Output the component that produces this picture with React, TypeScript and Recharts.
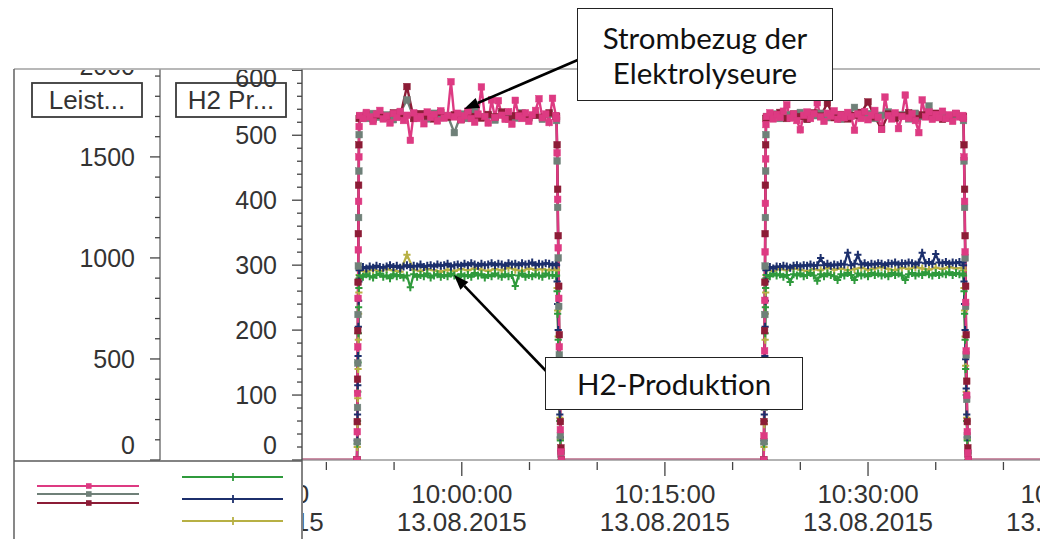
import React from 'react';
import { LineChart, Line, XAxis, YAxis, Legend } from 'recharts';

// ---------- layout constants ----------
const W = 1049;
const H = 539;
const PLOT_LEFT = 302;
const PLOT_RIGHT = 1040;
const PLOT_TOP = 69;
const PLOT_BOTTOM = 460;
const FONT = '"Liberation Sans", Arial, sans-serif';

// ---------- axes ----------
// time in minutes relative to 10:00:00 on 13.08.2015
const X_DOMAIN = [-11.8, 42.7];
const X_TICKS = [-15, -10, -5, 0, 5, 10, 15, 20, 25, 30, 35, 40, 45];
const X_LABEL_TIMES = [-15, 0, 15, 30, 45];
const X_LABEL_CLOCK = ['09:45:00', '10:00:00', '10:15:00', '10:30:00', '10:45:00'];
const X_LABEL_DATE = ['13.08.2015', '13.08.2015', '13.08.2015', '13.08.2015', '13.08.2015'];

const P_DOMAIN = [0, 1935];
const P_TICKS = [0, 100, 200, 300, 400, 500, 600, 700, 800, 900, 1000, 1100, 1200, 1300, 1400, 1500, 1600, 1700, 1800, 1900, 2000];
const H2_DOMAIN = [0, 602];
const H2_TICKS = [0, 20, 40, 60, 80, 100, 120, 140, 160, 180, 200, 220, 240, 260, 280, 300, 320, 340, 360, 380, 400, 420, 440, 460, 480, 500, 520, 540, 560, 580, 600];

// ---------- sampling ----------
const T_LEFT_ZERO = -12.5;
const T_RISE1 = -7.74;
const T_ON1 = -7.55;
const T_FALL1 = 7.0;
const T_RISE2 = 22.3;
const T_ON2 = 22.5;
const T_FALL2 = 37.05;
const T_RIGHT_ZERO = 43.5;
const STEP_UP = 0.02;
const STEP_DOWN = 0.04;
const STEP_FINE = 0.25;
const STEP_COARSE = 0.5;

// ---------- series values: Leistung (kW) ----------
const PINK_RISE = [0, 140, 330, 560, 800, 1040, 1280, 1500, 1650];
const PINK_ON1 = [
  1705, 1690, 1720, 1698, 1675, 1712, 1730, 1688, 1702, 1668,
  1715, 1695, 1725, 1680, 1706, 1582, 1718, 1690, 1700, 1664,
  1722, 1696, 1710, 1678, 1728, 1692, 1705, 1872, 1698, 1716,
  1684, 1703, 1726, 1690, 1672, 1712, 1846, 1700, 1668, 1782,
  1695, 1778, 1706, 1686, 1724, 1662, 1780, 1702, 1690, 1718,
  1676, 1708, 1730, 1788, 1694, 1712, 1670, 1790, 1704,
];
const PINK_FALL = [1690, 1520, 1290, 1050, 800, 560, 330, 150, 40, 0];
const PINK_RISE2 = [0, 120, 310, 540, 790, 1030, 1270, 1490, 1660];
const PINK_ON2 = [
  1700, 1718, 1688, 1710, 1695, 1726, 1758, 1692, 1712, 1680,
  1634, 1706, 1722, 1690, 1714, 1768, 1698, 1676, 1716, 1702,
  1728, 1686, 1708, 1694, 1720, 1700, 1632, 1712, 1690, 1724,
  1684, 1706, 1730, 1696, 1636, 1796, 1704, 1688, 1718, 1640,
  1700, 1806, 1692, 1714, 1680, 1620, 1782, 1698, 1722, 1686,
  1710, 1694, 1726, 1690, 1708, 1676, 1716, 1698, 1705,
];
const PINK_FALL2 = [1690, 1500, 1280, 1030, 780, 540, 320, 140, 35, 0];

const GRAY_RISE = [0, 90, 260, 480, 720, 960, 1200, 1430, 1610];
const GRAY_ON1 = [
  1702, 1690, 1715, 1696, 1708, 1684, 1720, 1782, 1698, 1710,
  1688, 1716, 1694, 1705, 1620, 1712, 1690, 1724, 1698, 1706,
  1682, 1714, 1700, 1692, 1718, 1696, 1708, 1686, 1712, 1700,
];
const GRAY_FALL = [1680, 1480, 1250, 1000, 760, 520, 300, 120, 30, 0];
const GRAY_ON2 = [
  1700, 1712, 1690, 1708, 1696, 1720, 1688, 1704, 1716, 1694,
  1710, 1686, 1702, 1745, 1698, 1714, 1690, 1706, 1722, 1694,
  1708, 1688, 1716, 1700, 1752, 1696, 1710, 1692, 1706, 1700,
];

const DARKRED_RISE = [0, 190, 400, 640, 880, 1120, 1360, 1560, 1690];
const DARKRED_ON1 = [
  1698, 1712, 1686, 1706, 1694, 1718, 1700, 1848, 1690, 1714,
  1702, 1688, 1720, 1696, 1708, 1684, 1716, 1700, 1692, 1710,
  1698, 1722, 1688, 1704, 1714, 1692, 1706, 1696, 1718, 1702,
];
const DARKRED_FALL = [1700, 1560, 1340, 1110, 860, 620, 390, 190, 60, 0];
const DARKRED_ON2 = [
  1696, 1708, 1720, 1690, 1712, 1700, 1686, 1718, 1702, 1766,
  1694, 1710, 1688, 1706, 1720, 1772, 1698, 1638, 1712, 1692,
  1704, 1718, 1690, 1708, 1700, 1716, 1686, 1702, 1714, 1698,
];

// ---------- series values: H2-Produktion ----------
const GREEN_RISE = [0, 25, 60, 105, 150, 195, 235, 265, 280];
const GREEN_ON1 = [
  284, 282, 286, 283, 281, 285, 287, 282, 284, 280,
  286, 283, 285, 281, 284, 266, 286, 282, 285, 283,
  287, 281, 284, 286, 282, 285, 283, 287, 284, 281,
  286, 283, 285, 282, 288, 284, 286, 281, 285, 283,
  287, 284, 282, 286, 283, 285, 268, 284, 287, 282,
  285, 283, 286, 284, 282, 287, 284, 285, 283,
];
const GREEN_FALL = [284, 260, 225, 185, 140, 100, 60, 30, 10, 0];
const GREEN_ON2 = [
  285, 283, 287, 284, 286, 282, 285, 274, 286, 284,
  287, 283, 285, 288, 284, 276, 286, 283, 287, 285,
  283, 277, 286, 284, 288, 285, 277, 287, 284, 286,
  283, 288, 285, 287, 284, 286, 283, 288, 285, 287,
  284, 277, 286, 288, 284, 287, 285, 289, 286, 284,
  288, 285, 287, 286, 289, 285, 288, 286, 287,
];

const NAVY_RISE = [0, 30, 70, 115, 160, 205, 245, 275, 292];
const NAVY_ON1 = [
  296, 297, 295, 298, 296, 299, 297, 296, 298, 300,
  297, 299, 296, 298, 300, 297, 299, 298, 301, 297,
  299, 300, 298, 301, 299, 300, 302, 298, 300, 301,
  299, 302, 300, 303, 301, 299, 302, 300, 301, 303,
  300, 302, 301, 299, 303, 301, 302, 300, 303, 301,
  302, 304, 300, 302, 301, 303, 302, 300, 302,
];
const NAVY_FALL = [300, 275, 240, 200, 155, 110, 70, 35, 12, 0];
const NAVY_ON2 = [
  296, 297, 295, 298, 297, 299, 298, 296, 299, 300,
  298, 300, 299, 301, 299, 300, 311, 300, 302, 299,
  301, 300, 302, 301, 319, 300, 302, 316, 301, 303,
  300, 302, 301, 303, 302, 300, 303, 302, 304, 301,
  303, 302, 304, 303, 301, 304, 319, 303, 305, 302,
  317, 304, 303, 305, 302, 304, 303, 305, 304,
];

const OLIVE_RISE = [0, 20, 55, 95, 140, 185, 225, 258, 285];
const OLIVE_ON1 = [
  292, 290, 293, 291, 294, 292, 290, 316, 293, 291,
  294, 292, 290, 293, 291, 294, 292, 295, 293, 291,
  294, 292, 296, 293, 291, 295, 293, 294, 292, 295,
];
const OLIVE_FALL = [292, 265, 230, 190, 145, 105, 65, 32, 10, 0];
const OLIVE_ON2 = [
  293, 291, 294, 292, 295, 293, 291, 294, 292, 296,
  293, 295, 292, 294, 296, 293, 295, 297, 294, 292,
  296, 294, 297, 295, 293, 296, 294, 297, 295, 296,
];

type Pt = { t: number; v: number };

function build(rise1: number[], on1: number[], fall1: number[], rise2: number[], on2: number[], fall2: number[], step: number): Pt[] {
  const out: Pt[] = [{ t: T_LEFT_ZERO, v: 0 }];
  rise1.forEach((v, i) => out.push({ t: T_RISE1 + i * STEP_UP, v }));
  on1.forEach((v, i) => out.push({ t: T_ON1 + i * step, v }));
  fall1.forEach((v, i) => out.push({ t: T_FALL1 + i * STEP_DOWN, v }));
  rise2.forEach((v, i) => out.push({ t: T_RISE2 + i * STEP_UP, v }));
  on2.forEach((v, i) => out.push({ t: T_ON2 + i * step, v }));
  fall2.forEach((v, i) => out.push({ t: T_FALL2 + i * STEP_DOWN, v }));
  out.push({ t: T_RIGHT_ZERO, v: 0 });
  return out;
}

const PINK = '#dd3a82';
const GRAY = '#6f8078';
const DARKRED = '#8c1c36';
const GREEN = '#2f9a3c';
const NAVY = '#1c2f6c';
const OLIVE = '#b7b044';

const POWER_SERIES = [
  { key: 'p2', color: GRAY, data: build(GRAY_RISE, GRAY_ON1, GRAY_FALL, GRAY_RISE, GRAY_ON2, GRAY_FALL, STEP_COARSE) },
  { key: 'p3', color: DARKRED, data: build(DARKRED_RISE, DARKRED_ON1, DARKRED_FALL, DARKRED_RISE, DARKRED_ON2, DARKRED_FALL, STEP_COARSE) },
  { key: 'p1', color: PINK, data: build(PINK_RISE, PINK_ON1, PINK_FALL, PINK_RISE2, PINK_ON2, PINK_FALL2, STEP_FINE) },
];
const H2_SERIES = [
  { key: 'h3', color: OLIVE, data: build(OLIVE_RISE, OLIVE_ON1, OLIVE_FALL, OLIVE_RISE, OLIVE_ON2, OLIVE_FALL, STEP_COARSE) },
  { key: 'h1', color: GREEN, data: build(GREEN_RISE, GREEN_ON1, GREEN_FALL, GREEN_RISE, GREEN_ON2, GREEN_FALL, STEP_FINE) },
  { key: 'h2', color: NAVY, data: build(NAVY_RISE, NAVY_ON1, NAVY_FALL, NAVY_RISE, NAVY_ON2, NAVY_FALL, STEP_FINE) },
];
const LEGEND_POWER = [PINK, GRAY, DARKRED];
const LEGEND_H2 = [GREEN, NAVY, OLIVE];

// ---------- renderers ----------
const squareDot = (color: string) => (props: any) => {
  const { cx, cy, index } = props;
  if (cx == null || cy == null) return <g key={`s${index}`} />;
  return <rect key={`s${index}`} x={cx - 3.3} y={cy - 3.3} width={6.6} height={6.6} fill={color} stroke={color} strokeWidth={0.5} />;
};
const plusDot = (color: string) => (props: any) => {
  const { cx, cy, index } = props;
  if (cx == null || cy == null) return <g key={`c${index}`} />;
  return <path key={`c${index}`} d={`M${cx - 3.6},${cy}h7.2M${cx},${cy - 4}v8`} stroke={color} strokeWidth={2} fill="none" />;
};

const makeYTick = (kind: 'p' | 'h2') => (props: any) => {
  const { x, y, payload } = props;
  const v = payload.value as number;
  const major = kind === 'p' ? v % 500 === 0 : v % 100 === 0;
  const len = major ? 10 : 5;
  let ty = y;
  if (ty > PLOT_BOTTOM - 15) ty = PLOT_BOTTOM - 15;
  if (kind === 'h2' && ty < PLOT_TOP + 9) ty = PLOT_TOP + 9;
  if (kind === 'p' && ty < PLOT_TOP - 3) ty = PLOT_TOP - 3;
  const clipId = `yclip-${kind}-${v}`;
  return (
    <g>
      <defs>
        <clipPath id={clipId}>
          <rect x={0} y={PLOT_TOP + 1} width={PLOT_LEFT + 2} height={H - PLOT_TOP} />
        </clipPath>
      </defs>
      <g clipPath={`url(#${clipId})`}>
        <line x1={x - len} x2={x} y1={y} y2={y} stroke="#444" strokeWidth={1.3} />
        {major && (
          <text x={x - 25} y={ty + 9} textAnchor="end" fontSize={25} fontFamily={FONT} fill="#333">
            {v}
          </text>
        )}
      </g>
    </g>
  );
};

const XTick = (props: any) => {
  const { x, y, payload } = props;
  const v = payload.value as number;
  const idx = X_LABEL_TIMES.indexOf(v);
  const major = idx >= 0;
  const inPlot = x >= PLOT_LEFT - 0.5 && x <= PLOT_RIGHT + 0.5;
  const clipId = `xclip-${v}`;
  return (
    <g>
      {inPlot && <line x1={x} x2={x} y1={y + 2} y2={y + (major ? 16 : 10)} stroke="#444" strokeWidth={1.3} />}
      {major && (
        <g>
          <defs>
            <clipPath id={clipId}>
              <rect x={PLOT_LEFT + 1} y={0} width={PLOT_RIGHT - PLOT_LEFT - 1} height={H} />
            </clipPath>
          </defs>
          <g clipPath={`url(#${clipId})`}>
            <text x={x} y={y + 43} textAnchor="middle" fontSize={26} fontFamily={FONT} fill="#333">
              {X_LABEL_CLOCK[idx]}
            </text>
            <text x={x} y={y + 71} textAnchor="middle" fontSize={26} fontFamily={FONT} fill="#333">
              {X_LABEL_DATE[idx]}
            </text>
          </g>
        </g>
      )}
    </g>
  );
};

const axisBox = (text: string) => (props: any) => {
  const vb = props.viewBox || {};
  const cx = vb.x + vb.width / 2;
  const top = vb.y + 14;
  return (
    <g>
      <rect x={cx - 55} y={top} width={110} height={34} fill="#fff" stroke="#3a3a3a" strokeWidth={1.8} />
      <text x={cx} y={top + 26} textAnchor="middle" fontSize={26} fontFamily={FONT} fill="#333">
        {text}
      </text>
    </g>
  );
};

const LegendContent = () => (
  <svg width={288} height={77} style={{ display: 'block' }}>
    {LEGEND_POWER.map((c, i) => {
      const y = [24, 32, 41][i];
      return (
        <g key={`lp${i}`}>
          <line x1={23} x2={125} y1={y} y2={y} stroke={c} strokeWidth={2} />
          <rect x={72} y={y - 2.8} width={5.6} height={5.6} fill={c} />
        </g>
      );
    })}
    {LEGEND_H2.map((c, i) => {
      const y = [15, 37, 59][i];
      return (
        <g key={`lh${i}`}>
          <line x1={168} x2={269} y1={y} y2={y} stroke={c} strokeWidth={1.8} />
          <path d={`M219,${y - 4}v8`} stroke={c} strokeWidth={1.8} />
        </g>
      );
    })}
  </svg>
);

function arrow(x1: number, y1: number, x2: number, y2: number) {
  const dx = x2 - x1;
  const dy = y2 - y1;
  const L = Math.sqrt(dx * dx + dy * dy);
  const ux = dx / L;
  const uy = dy / L;
  const hl = 15;
  const hw = 5.5;
  const bx = x2 - ux * hl;
  const by = y2 - uy * hl;
  const px = -uy;
  const py = ux;
  return (
    <g>
      <line x1={x1} y1={y1} x2={bx} y2={by} stroke="#000" strokeWidth={2.6} />
      <polygon points={`${x2},${y2} ${bx + px * hw},${by + py * hw} ${bx - px * hw},${by - py * hw}`} fill="#000" />
    </g>
  );
}

export default function App() {
  return (
    <div style={{ position: 'absolute', left: 0, top: 0, width: W, height: H, background: '#fff', overflow: 'hidden' }}>
      <LineChart width={W} height={H} margin={{ top: PLOT_TOP, right: W - PLOT_RIGHT, bottom: 0, left: 14 }}>
        <XAxis
          dataKey="t"
          type="number"
          domain={X_DOMAIN}
          allowDataOverflow
          ticks={X_TICKS}
          interval={0}
          tickSize={0}
          tickMargin={0}
          tickLine={false}
          tick={XTick}
          height={H - PLOT_BOTTOM}
          axisLine={{ stroke: '#9a9a9a', strokeWidth: 1.3 }}
        />
        <YAxis
          yAxisId="h2"
          orientation="left"
          type="number"
          domain={H2_DOMAIN}
          allowDataOverflow
          ticks={H2_TICKS}
          interval={0}
          width={142}
          tickSize={0}
          tickMargin={0}
          tickLine={false}
          tick={makeYTick('h2')}
          axisLine={{ stroke: '#555', strokeWidth: 1.5 }}
          label={axisBox('H2 Pr...')}
        />
        <YAxis
          yAxisId="p"
          orientation="left"
          type="number"
          domain={P_DOMAIN}
          allowDataOverflow
          ticks={P_TICKS}
          interval={0}
          width={146}
          tickSize={0}
          tickMargin={0}
          tickLine={false}
          tick={makeYTick('p')}
          axisLine={{ stroke: '#777', strokeWidth: 1.5 }}
          label={axisBox('Leist...')}
        />
        <Legend
          layout="vertical"
          align="center"
          verticalAlign="middle"
          wrapperStyle={{ left: 14, top: 462, width: 288, height: 77 }}
          content={LegendContent}
        />
        {H2_SERIES.map((s) => (
          <Line
            key={s.key}
            yAxisId="h2"
            data={s.data}
            dataKey="v"
            type="linear"
            stroke={s.color}
            strokeWidth={2.2}
            dot={plusDot(s.color)}
            activeDot={false}
            isAnimationActive={false}
            legendType="none"
          />
        ))}
        {POWER_SERIES.map((s) => (
          <Line
            key={s.key}
            yAxisId="p"
            data={s.data}
            dataKey="v"
            type="linear"
            stroke={s.color}
            strokeWidth={2.4}
            dot={squareDot(s.color)}
            activeDot={false}
            isAnimationActive={false}
            legendType="none"
          />
        ))}
      </LineChart>

      {/* frame */}
      <svg width={W} height={H} style={{ position: 'absolute', left: 0, top: 0, pointerEvents: 'none' }}>
        <line x1={14} x2={PLOT_RIGHT} y1={PLOT_TOP} y2={PLOT_TOP} stroke="#a0a0a0" strokeWidth={1.3} />
        <line x1={14} x2={14} y1={PLOT_TOP} y2={H} stroke="#6a6a6a" strokeWidth={1.6} />
        <line x1={14} x2={PLOT_LEFT} y1={461} y2={461} stroke="#5a5a5a" strokeWidth={1.5} />
        <line x1={PLOT_LEFT} x2={PLOT_LEFT} y1={460} y2={H} stroke="#5a5a5a" strokeWidth={1.5} />
        {arrow(580, 59, 464, 109)}
        {arrow(547, 372, 454, 275)}
      </svg>

      {/* annotations */}
      <div
        style={{
          position: 'absolute', left: 577, top: 8, width: 256, height: 93, boxSizing: 'border-box',
          border: '1.6px solid #222', background: '#fff', display: 'flex', flexDirection: 'column',
          alignItems: 'center', justifyContent: 'center', fontFamily: 'Lato, "Open Sans", sans-serif',
          fontSize: 29.5, lineHeight: '35px', color: '#111',
        }}
      >
        <div>Strombezug der</div>
        <div>Elektrolyseure</div>
      </div>
      <div
        style={{
          position: 'absolute', left: 545, top: 357, width: 258, height: 53, boxSizing: 'border-box',
          border: '1.6px solid #222', background: '#fff', display: 'flex', alignItems: 'center',
          justifyContent: 'center', fontFamily: 'Lato, "Open Sans", sans-serif', fontSize: 29.5, color: '#111',
        }}
      >
        H2-Produktion
      </div>
    </div>
  );
}
